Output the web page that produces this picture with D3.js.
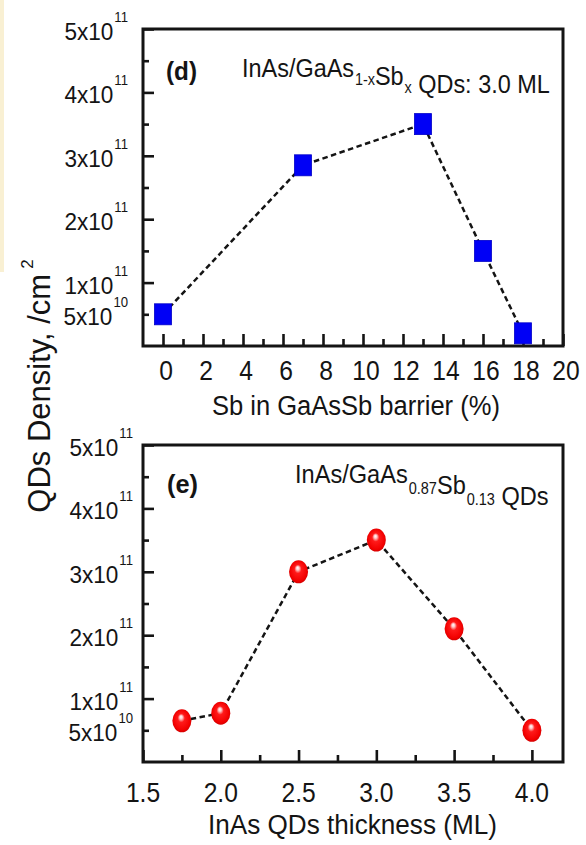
<!DOCTYPE html>
<html>
<head>
<meta charset="utf-8">
<script src="https://cdn.jsdelivr.net/npm/d3@7"></script>
<style>
  html, body { margin: 0; padding: 0; background: #ffffff; }
  svg { display: block; }
  text { font-family: "Liberation Sans", Arial, Helvetica, sans-serif; fill: #141414; }
</style>
</head>
<body>
<svg id="fig" width="586" height="845"></svg>
<script>
// Panel (d): QD density vs Sb content of the GaAsSb barrier (3.0 ML InAs)
const sbContent = [0, 7, 13, 16, 18];
const densitySb = [5.0e10, 2.85e11, 3.5e11, 1.5e11, 2.0e10];

// Panel (e): QD density vs InAs coverage on GaAs0.87Sb0.13
const inasThickness = [1.75, 2.0, 2.5, 3.0, 3.5, 4.0];
const densityThick = [6.5e10, 7.7e10, 3.0e11, 3.5e11, 2.1e11, 5.0e10];

// Tick positions and labels
const sbTicks = [0, 2, 4, 6, 8, 10, 12, 14, 16, 18, 20];
const sbMinorTicks = [1, 3, 5, 7, 9, 11, 13, 15, 17, 19];
const thickTicks = [1.5, 2.0, 2.5, 3.0, 3.5, 4.0];
const thickMinorTicks = [1.75, 2.25, 2.75, 3.25, 3.75];
const densityMajorTicks = [1e11, 2e11, 3e11, 4e11, 5e11];
const densityMinorTicks = [5e10, 1.5e11, 2.5e11, 3.5e11, 4.5e11];
const densityLabelTicks = [5e10, 1e11, 2e11, 3e11, 4e11, 5e11];
const densityMantissa = ["5", "1", "2", "3", "4", "5"];
const densityExponent = ["10", "11", "11", "11", "11", "11"];

const svg = d3.select("#fig");
const INK = "#141414";
const L = 143, R = 563;

// glossy red ball used for panel (e)
const defs = svg.append("defs");
const ball = defs.append("radialGradient").attr("id", "ball")
  .attr("cx", "50%").attr("cy", "50%").attr("r", "55%")
  .attr("fx", "45%").attr("fy", "32%");
[[0, "#ffffff"], [0.14, "#ffc8c8"], [0.34, "#ff1a1a"], [0.8, "#f20000"], [1, "#c40000"]]
  .forEach(([o, c]) => ball.append("stop").attr("offset", o).attr("stop-color", c));

// faint tinted strip along the left edge
svg.append("rect").attr("x", 0).attr("y", 0).attr("width", 4).attr("height", 272)
  .attr("fill", "#f8ecc8").attr("opacity", 0.8);

// squeeze a text element horizontally so it spans a given width
function fitTo(sel, width) {
  const n = sel.node().getComputedTextLength();
  sel.attr("transform", `scale(${width / n},1)`);
  return sel;
}

function styleAxis(g, w) {
  g.select(".domain").remove();
  g.selectAll(".tick line").attr("stroke", INK).attr("stroke-width", w);
}

function panel(o) {
  const g = svg.append("g");
  const x = d3.scaleLinear().domain(o.xDomain).range([L, R]);
  const y = d3.scaleLinear().domain([0, 5e11]).range([o.bottom, o.top]);

  // inward ticks (bottom and left only)
  g.append("g").attr("transform", `translate(0,${o.bottom})`)
    .call(d3.axisBottom(x).tickValues(o.xMajor).tickSize(-12).tickFormat(""))
    .call(s => styleAxis(s, 2.6));
  g.append("g").attr("transform", `translate(0,${o.bottom})`)
    .call(d3.axisBottom(x).tickValues(o.xMinor).tickSize(-7).tickFormat(""))
    .call(s => styleAxis(s, 2.6));
  g.append("g").attr("transform", `translate(${L},0)`)
    .call(d3.axisLeft(y).tickValues(densityMajorTicks).tickSize(-11).tickFormat(""))
    .call(s => styleAxis(s, 2.6));
  g.append("g").attr("transform", `translate(${L},0)`)
    .call(d3.axisLeft(y).tickValues(densityMinorTicks).tickSize(-6).tickFormat(""))
    .call(s => styleAxis(s, 2.6));

  // frame
  g.append("rect").attr("x", L).attr("y", o.top)
    .attr("width", R - L).attr("height", o.bottom - o.top)
    .attr("fill", "none").attr("stroke", INK).attr("stroke-width", 3);

  // x tick labels
  o.xMajor.forEach(v => {
    g.append("g").attr("transform", `translate(${x(v) + o.xLabelShift},${o.bottom + o.xLabelGap})`)
      .append("text").attr("text-anchor", "middle").attr("font-size", 28)
      .attr("transform", "scale(0.88,1)").text(o.xFormat(v));
  });

  // y tick labels: mantissa x 10 with superscript exponent
  densityLabelTicks.forEach((v, i) => {
    const t = g.append("g").attr("transform", `translate(${o.yLabelRight},${y(v) + 11})`)
      .append("text").attr("text-anchor", "end").attr("font-size", 24)
      .attr("transform", "scale(0.94,1)");
    t.append("tspan").text(densityMantissa[i] + "x10");
    t.append("tspan").attr("font-size", 14).attr("dy", -18).attr("dx", 1).text(densityExponent[i]);
  });

  // x axis title
  const xt = g.append("g").attr("transform", `translate(${o.xTitleX},${o.xTitleY})`)
    .append("text").attr("font-size", o.xTitleSize).text(o.xTitle);
  fitTo(xt, o.xTitleW);

  // panel letter
  const tag = g.append("g").attr("transform", `translate(${o.tagX},${o.tagY})`)
    .append("text").attr("font-size", 26).attr("font-weight", "bold").text(o.tag);
  fitTo(tag, 31);

  // sample description with subscripts
  const ann = g.append("g").attr("transform", `translate(${o.annX},${o.annY})`)
    .append("text").attr("font-size", 26);
  o.ann.forEach(([s, sub]) => {
    if (sub) {
      ann.append("tspan").attr("font-size", 16).attr("dy", o.subDy).attr("dx", 1).text(s);
      ann.append("tspan").attr("dy", -o.subDy).text("");
    } else {
      ann.append("tspan").text(s);
    }
  });
  fitTo(ann, o.annW);

  // dashed guide through the points
  const pts = o.xs.map((v, i) => [v, o.ys[i]]);
  g.append("path").datum(pts)
    .attr("d", d3.line().x(d => x(d[0])).y(d => y(d[1])))
    .attr("fill", "none").attr("stroke", INK).attr("stroke-width", 2.5)
    .attr("stroke-dasharray", "5.5,3.5");

  // markers
  if (o.marker === "square") {
    g.selectAll(".sq").data(pts).join("rect")
      .attr("x", d => x(d[0]) - 8.5).attr("y", d => y(d[1]) - 10.5)
      .attr("width", 17).attr("height", 21)
      .attr("fill", "#0000f6").attr("stroke", "#0000c8").attr("stroke-width", 0.8);
  } else {
    g.selectAll(".ball").data(pts).join("ellipse")
      .attr("cx", d => x(d[0])).attr("cy", d => y(d[1]))
      .attr("rx", 9.5).attr("ry", 11.5)
      .attr("fill", "url(#ball)");
  }
}

panel({
  top: 29, bottom: 346, xDomain: [-1, 20],
  xMajor: sbTicks, xMinor: sbMinorTicks, xFormat: d3.format("d"),
  xLabelShift: 3, xLabelGap: 34, yLabelRight: 128,
  xTitle: "Sb in GaAsSb barrier (%)", xTitleX: 212, xTitleY: 415, xTitleSize: 28, xTitleW: 288,
  tag: "(d)", tagX: 166, tagY: 80,
  ann: [["InAs/GaAs"], ["1-x", true], ["Sb"], ["x", true], [" QDs: 3.0 ML"]],
  annX: 242, annY: 77, annW: 306, subDy: 8,
  xs: sbContent, ys: densitySb, marker: "square"
});

panel({
  top: 445, bottom: 762, xDomain: [1.5, 4.2],
  xMajor: thickTicks, xMinor: thickMinorTicks, xFormat: d3.format(".1f"),
  xLabelShift: 0, xLabelGap: 40, yLabelRight: 133,
  xTitle: "InAs QDs thickness (ML)", xTitleX: 208, xTitleY: 834, xTitleSize: 27, xTitleW: 289,
  tag: "(e)", tagX: 167, tagY: 493,
  ann: [["InAs/GaAs"], ["0.87", true], ["Sb"], ["0.13", true], [" QDs"]],
  annX: 295, annY: 483, annW: 252, subDy: 11,
  xs: inasThickness, ys: densityThick, marker: "ball"
});

// shared y axis title
const yt = svg.append("g").attr("transform", "translate(50,386) rotate(-90)")
  .append("text").attr("text-anchor", "middle").attr("font-size", 31);
yt.append("tspan").text("QDs Density, /cm");
yt.append("tspan").attr("font-size", 17).attr("dx", 5).attr("dy", -17).text("2");
</script>
</body>
</html>
